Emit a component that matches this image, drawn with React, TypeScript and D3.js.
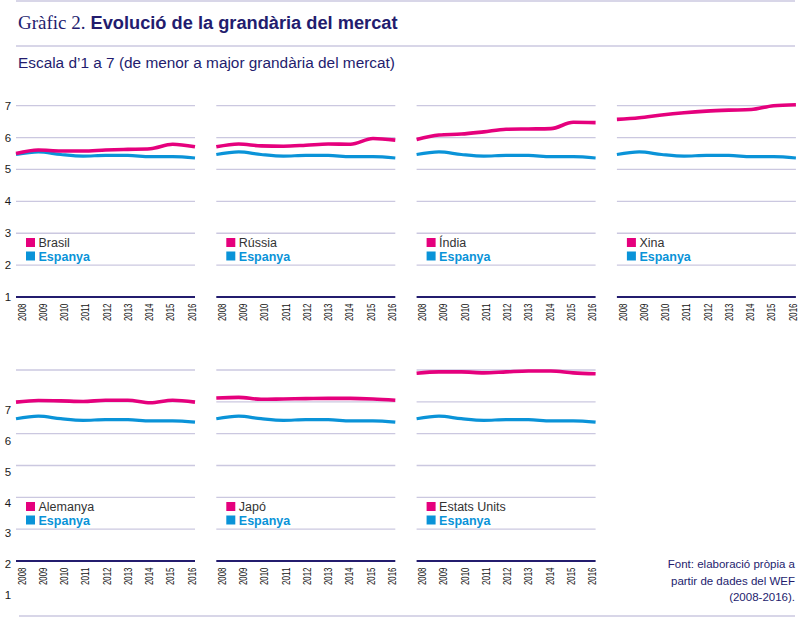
import React from 'react';
import * as d3 from 'd3';

const YEARS = [2008, 2009, 2010, 2011, 2012, 2013, 2014, 2015, 2016];
const Y_TICKS = [1, 2, 3, 4, 5, 6, 7];

const spain = [5.47, 5.55, 5.47, 5.42, 5.44, 5.44, 5.40, 5.40, 5.36];
const brasil = [5.50, 5.61, 5.58, 5.58, 5.61, 5.63, 5.65, 5.79, 5.71];
const russia = [5.71, 5.80, 5.74, 5.73, 5.76, 5.80, 5.79, 5.97, 5.92];
const india = [5.94, 6.08, 6.11, 6.18, 6.26, 6.27, 6.28, 6.48, 6.47];
const china = [6.57, 6.62, 6.71, 6.78, 6.83, 6.86, 6.88, 7.00, 7.03];
const germany = [5.99, 6.04, 6.03, 6.01, 6.05, 6.05, 5.97, 6.05, 5.99];
const japan = [6.12, 6.14, 6.08, 6.09, 6.10, 6.11, 6.11, 6.09, 6.05];
const usa = [6.90, 6.94, 6.94, 6.91, 6.94, 6.97, 6.97, 6.91, 6.88];

const PANEL_NAMES = [['Brasil', 'Rússia', 'Índia', 'Xina'], ['Alemanya', 'Japó', 'Estats Units']];
const PANEL_VALUES = [[brasil, russia, india, china], [germany, japan, usa]];

const PINK = '#e5007d';
const BLUE = '#0a93d8';
const NAVY = '#231c6e';
const GRID = '#cbc8e0';
const SANS = '"Liberation Sans", Arial, sans-serif';

const PANEL_W = 179;

interface PanelProps {
  x0: number;
  yScale: d3.ScaleLinear<number, number>;
  labelScale: d3.ScaleLinear<number, number> | null;
  name: string;
  values: number[];
}

const Panel: React.FC<PanelProps> = ({ x0, yScale, labelScale, name, values }) => {
  const xScale = d3.scalePoint<number>().domain(YEARS).range([0, PANEL_W]);
  const yearScale = d3.scalePoint<number>().domain(YEARS).range([5.5, 175.5]);
  const line = d3.line<number>()
    .x((d, i) => xScale(YEARS[i]) as number)
    .y(d => yScale(d))
    .curve(d3.curveMonotoneX);
  const base = yScale(1);
  const legendTop = base - 59;

  return (
    <g transform={`translate(${x0},0)`}>
      {Y_TICKS.filter(t => t > 1).map(t => (
        <line key={t} x1={0} x2={PANEL_W} y1={yScale(t)} y2={yScale(t)} stroke={GRID} strokeWidth={1.3} />
      ))}
      <line x1={0} x2={PANEL_W} y1={base} y2={base} stroke={NAVY} strokeWidth={2} />

      {labelScale && Y_TICKS.map(t => (
        <text key={t} x={-8} y={labelScale(t)} dy="0.35em" textAnchor="middle"
          fontFamily={SANS} fontSize={11.5} fill="#1a1a1a">{t}</text>
      ))}

      {YEARS.map(yr => (
        <text key={yr} transform={`translate(${yearScale(yr)},${base + 6.5}) rotate(-90)`}
          dy="0.36em" textAnchor="end" fontFamily={SANS} fontSize={11.5} fill="#111"
          textLength={17.5} lengthAdjust="spacingAndGlyphs">{yr}</text>
      ))}

      <path d={line(spain) || ''} fill="none" stroke={BLUE} strokeWidth={3.2} />
      <path d={line(values) || ''} fill="none" stroke={PINK} strokeWidth={3.6} />

      <rect x={10} y={legendTop} width={9} height={9} fill={PINK} />
      <text x={22.5} y={legendTop + 9} fontFamily={SANS} fontSize={12.5} fill="#333">{name}</text>
      <rect x={10} y={legendTop + 13.5} width={9} height={9} fill={BLUE} />
      <text x={22.5} y={legendTop + 22.7} fontFamily={SANS} fontSize={12.5} fontWeight="bold" fill={BLUE}>Espanya</text>
    </g>
  );
};

export default function App() {
  const topScale = d3.scaleLinear().domain([1, 7]).range([297, 105.7]);
  const bottomScale = d3.scaleLinear().domain([1, 7]).range([561, 370]);
  // the printed axis labels of the second row sit one step lower than the grid
  const bottomLabels = d3.scaleLinear().domain([1, 7]).range([595, 410]);
  const rows = [topScale, bottomScale];

  return (
    <svg width={800} height={625} style={{ position: 'absolute', left: 0, top: 0, background: '#fff' }}>
      <line x1={16} x2={795} y1={1} y2={1} stroke={GRID} strokeWidth={1.5} />
      <text x={18} y={29} fontFamily='"Liberation Serif", serif' fontSize={19} fill={NAVY}>Gràfic 2.</text>
      <text x={90.5} y={29} fontFamily={SANS} fontSize={18} fontWeight="bold" fill={NAVY}
        textLength={307} lengthAdjust="spacingAndGlyphs">Evolució de la grandària del mercat</text>
      <line x1={16} x2={795} y1={46} y2={46} stroke={GRID} strokeWidth={1.5} />
      <text x={18} y={68} fontFamily={SANS} fontSize={15.5} fill={NAVY}
        textLength={377} lengthAdjust="spacingAndGlyphs">Escala d’1 a 7 (de menor a major grandària del mercat)</text>

      {PANEL_NAMES.map((names, r) => names.map((name, c) => (
        <Panel key={name} x0={16 + c * 200.3} yScale={rows[r]}
          labelScale={c === 0 ? (r === 0 ? topScale : bottomLabels) : null}
          name={name} values={PANEL_VALUES[r][c]} />
      )))}

      <g fontFamily={SANS} fontSize={11.5} fill={NAVY} textAnchor="end">
        <text x={795} y={568}>Font: elaboració pròpia a</text>
        <text x={795} y={584.5}>partir de dades del WEF</text>
        <text x={795} y={601}>(2008-2016).</text>
      </g>
      <line x1={19} x2={795} y1={616} y2={616} stroke={GRID} strokeWidth={1.5} />
    </svg>
  );
}
